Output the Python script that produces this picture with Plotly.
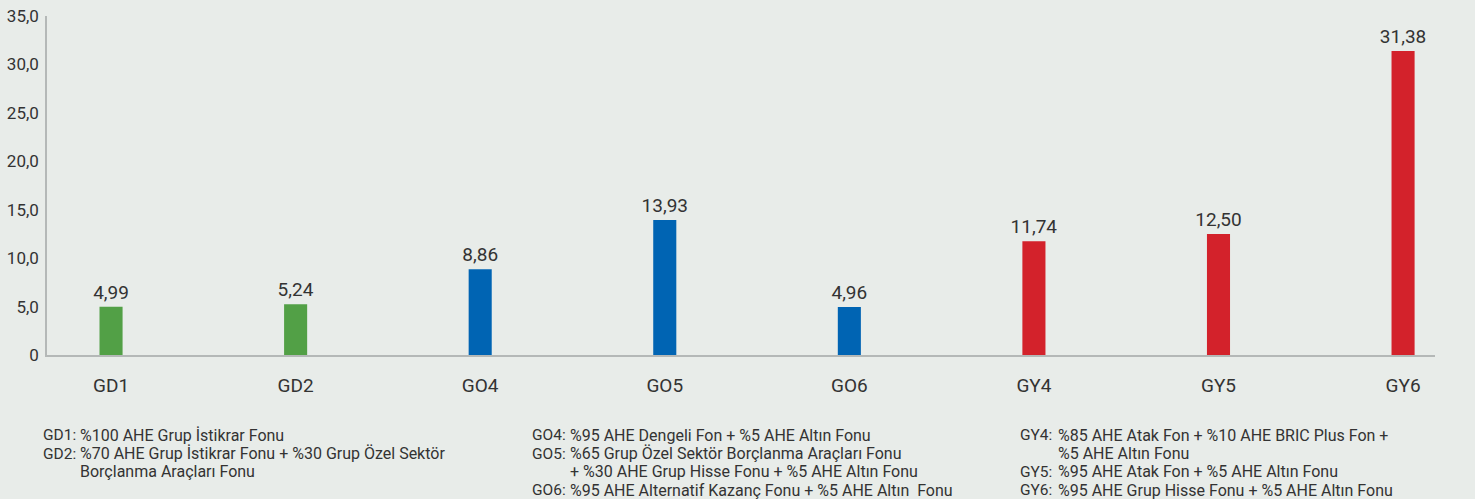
import plotly.graph_objects as go

categories = ["GD1", "GD2", "GO4", "GO5", "GO6", "GY4", "GY5", "GY6"]
values = [4.99, 5.24, 8.86, 13.93, 4.96, 11.74, 12.50, 31.38]
groups = ["GD", "GD", "GO", "GO", "GO", "GY", "GY", "GY"]
group_colors = {"GD": "#52a046", "GO": "#0064b3", "GY": "#d3222b"}
tick_vals = [0, 5, 10, 15, 20, 25, 30, 35]
tick_text = ["0", "5,0", "10,0", "15,0", "20,0", "25,0", "30,0", "35,0"]

# footnote columns: list of (label, text) per line
note_cols = [
    [("GD1:", "%100 AHE Grup İstikrar Fonu"),
     ("GD2:", "%70 AHE Grup İstikrar Fonu + %30 Grup Özel Sektör"),
     ("", "Borçlanma Araçları Fonu")],
    [("GO4:", "%95 AHE Dengeli Fon + %5 AHE Altın Fonu"),
     ("GO5:", "%65 Grup Özel Sektör Borçlanma Araçları Fonu"),
     ("", "+ %30 AHE Grup Hisse Fonu + %5 AHE Altın Fonu"),
     ("GO6:", "%95 AHE Alternatif Kazanç Fonu + %5 AHE Altın  Fonu")],
    [("GY4:", "%85 AHE Atak Fon + %10 AHE BRIC Plus Fon +"),
     ("", "%5 AHE Altın Fonu"),
     ("GY5:", "%95 AHE Atak Fon + %5 AHE Altın Fonu"),
     ("GY6:", "%95 AHE Grup Hisse Fonu + %5 AHE Altın Fonu")],
]

W, H = 1475, 499
ML, MR, MT, MB = 47, 40, 16, 144
PW = W - ML - MR
PH = H - MT - MB
FONT = "Roboto, DejaVu Sans, sans-serif"
TXT = "#333333"
BG = "#e8ece9"
NOTE_SIZE = 16

fig = go.Figure()
fig.add_trace(go.Bar(
    x=categories, y=values,
    marker=dict(color=[group_colors[g] for g in groups], line=dict(width=0)),
    width=0.125,
    texttemplate="%{y:.2f}", textposition="outside",
    textfont=dict(size=19, color=TXT, family=FONT),
    constraintext="none",
    cliponaxis=False,
    hoverinfo="skip",
))

def px_x(px):
    return (px - ML) / PW

def px_y(py):
    return (H - MB - py) / PH

annotations = []
col_x = [(41, 78), (530, 568), (1018, 1056)]
line_y = [435, 453.5, 472, 490]
for lines, (lx, tx) in zip(note_cols, col_x):
    for (lab, txt), ly in zip(lines, line_y):
        if lab:
            annotations.append(dict(
                x=px_x(lx), y=px_y(ly), xref="paper", yref="paper",
                xanchor="left", yanchor="middle", showarrow=False,
                text=lab, font=dict(size=NOTE_SIZE - 0.5, color=TXT, family=FONT),
            ))
        annotations.append(dict(
            x=px_x(tx), y=px_y(ly), xref="paper", yref="paper",
            xanchor="left", yanchor="middle", showarrow=False,
            text=txt, font=dict(size=NOTE_SIZE, color=TXT, family=FONT),
        ))

fig.update_layout(
    width=W, height=H,
    margin=dict(l=ML, r=MR, t=MT, b=MB, pad=0),
    paper_bgcolor=BG, plot_bgcolor=BG,
    separators=",.",
    showlegend=False,
    hovermode=False,
    font=dict(family=FONT, color=TXT),
    xaxis=dict(
        type="category", range=[-0.347, 7.173], automargin=False,
        showgrid=False, showline=True, linecolor="#b4b8b7", linewidth=2,
        ticks="", tickfont=dict(size=19, color=TXT, family=FONT),
        ticklabelstandoff=12,
    ),
    yaxis=dict(
        range=[0, 35], tickvals=tick_vals, ticktext=tick_text, automargin=False,
        showgrid=False, showline=True, linecolor="#b4b8b7", linewidth=1.5,
        zeroline=False, ticks="",
        tickfont=dict(size=17, color=TXT, family=FONT),
        ticklabelstandoff=3,
    ),
    annotations=annotations,
)

fig.write_html(
    "out.html",
    config={"displayModeBar": False},
    post_script="document.body.style.margin='0';document.body.style.overflow='hidden';",
)
